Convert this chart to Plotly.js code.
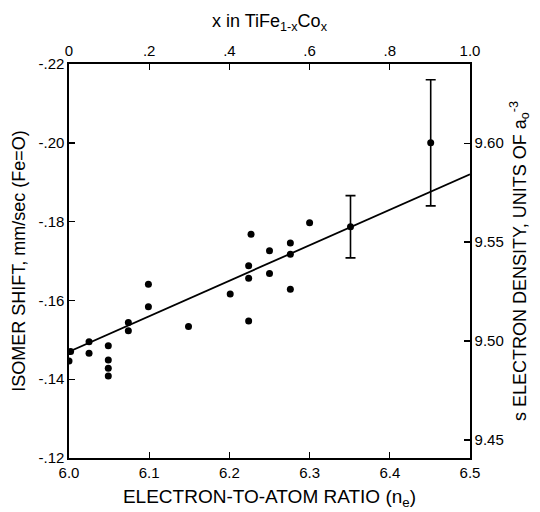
<!DOCTYPE html>
<html>
<head>
<meta charset="utf-8">
<script src="https://cdn.plot.ly/plotly-3.0.1.min.js"></script>
<style>html,body{margin:0;padding:0;background:#fff}#chart{width:540px;height:512px}</style>
</head>
<body>
<div id="chart"></div>
<script>
// Data points: electron-to-atom ratio vs isomer shift (mm/sec)
const ratio = [6.002, 6.0, 6.025, 6.025, 6.049, 6.049, 6.049, 6.049, 6.074, 6.074, 6.099, 6.099, 6.149, 6.201, 6.224, 6.224, 6.224, 6.227, 6.250, 6.250, 6.276, 6.276, 6.276, 6.300];
const shift = [-0.147, -0.1446, -0.1495, -0.1466, -0.1485, -0.1449, -0.1428, -0.1408, -0.1544, -0.1523, -0.1641, -0.1584, -0.1534, -0.1616, -0.1688, -0.1656, -0.1548, -0.1768, -0.1726, -0.1668, -0.1746, -0.1717, -0.1628, -0.1797];
// Points with error bars
const errRatio = [6.351, 6.451];
const errShift = [-0.1787, -0.200];
const errSize = [0.0079, 0.016];
// Fitted line
const fitRatio = [6.0, 6.5];
const fitShift = [-0.147, -0.192];
// Axis ticks
const bottomTicks = [6.0, 6.1, 6.2, 6.3, 6.4, 6.5];
const bottomTickText = ["6.0", "6.1", "6.2", "6.3", "6.4", "6.5"];
const leftTicks = [-0.22, -0.20, -0.18, -0.16, -0.14, -0.12];
const leftTickText = ["-.22", "-.20", "-.18", "-.16", "-.14", "-.12"];
const topTicks = [0, 0.2, 0.4, 0.6, 0.8, 1.0];
const topTickText = ["0", ".2", ".4", ".6", ".8", "1.0"];
const rightTicks = [9.45, 9.50, 9.55, 9.60];
const rightTickText = ["9.45", "9.50", "9.55", "9.60"];

const FONT = "Liberation Sans, Arial, sans-serif";
const traces = [
  {x: fitRatio, y: fitShift, mode: 'lines', line: {color: '#000', width: 1.8}, hoverinfo: 'skip', showlegend: false},
  {x: ratio, y: shift, mode: 'markers', marker: {color: '#000', size: 7}, showlegend: false},
  {x: errRatio, y: errShift, mode: 'markers', marker: {color: '#000', size: 7}, showlegend: false,
   error_y: {type: 'data', array: errSize, visible: true, color: '#000', thickness: 1.6, width: 5}},
  {x: topTicks, y: rightTicks, xaxis: 'x2', yaxis: 'y2', mode: 'markers', marker: {opacity: 0}, hoverinfo: 'skip', showlegend: false}
];

const axisCommon = {showgrid: false, zeroline: false, showline: true, linecolor: '#000', linewidth: 1.6,
  ticks: 'inside', ticklen: 6, tickwidth: 1.4, tickcolor: '#000', tickmode: 'array',
  tickfont: {family: FONT, size: 15, color: '#000'}};

const layout = {
  width: 540, height: 512,
  margin: {l: 69, r: 70, t: 64, b: 54},
  paper_bgcolor: '#fff', plot_bgcolor: '#fff',
  font: {family: FONT, color: '#000'},
  showlegend: false,
  xaxis: Object.assign({}, axisCommon, {range: [6.0, 6.5], tickvals: bottomTicks, ticktext: bottomTickText,
    title: {text: 'ELECTRON-TO-ATOM RATIO (n<sub>e</sub>)', font: {family: FONT, size: 19, color: '#000'}, standoff: 10}}),
  yaxis: Object.assign({}, axisCommon, {range: [-0.12, -0.22], tickvals: leftTicks, ticktext: leftTickText,
    title: {text: 'ISOMER SHIFT, mm/sec (Fe=O)', font: {family: FONT, size: 18, color: '#000'}, standoff: 8}}),
  xaxis2: Object.assign({}, axisCommon, {range: [0, 1.0], overlaying: 'x', side: 'top', anchor: 'y',
    tickvals: topTicks, ticktext: topTickText,
    title: {text: 'x in TiFe<sub>1-x</sub>Co<sub>x</sub>', font: {family: FONT, size: 18, color: '#000'}, standoff: 10}}),
  yaxis2: Object.assign({}, axisCommon, {range: [9.441, 9.640], overlaying: 'y', side: 'right', anchor: 'x',
    tickvals: rightTicks, ticktext: rightTickText,
    title: {text: 's ELECTRON DENSITY, UNITS OF a<sub>o</sub><sup>-3</sup>', font: {family: FONT, size: 18, color: '#000'}, standoff: 10}})
};

Plotly.newPlot('chart', traces, layout, {displayModeBar: false, staticPlot: true});
</script>
</body>
</html>
